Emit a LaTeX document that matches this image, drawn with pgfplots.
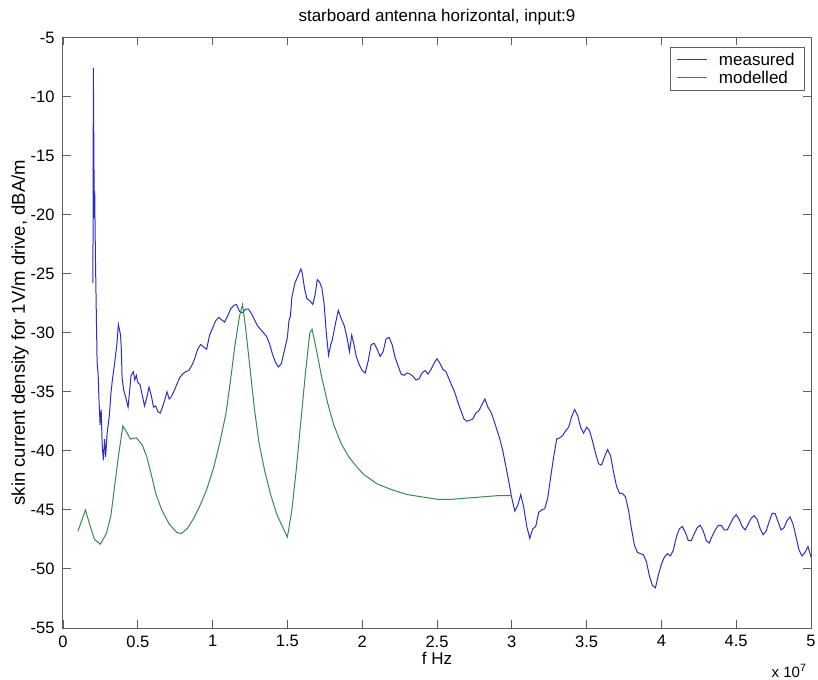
\documentclass[border=0pt]{standalone}
\usepackage{pgfplots}
\pgfplotsset{compat=1.18}
\usepackage{fontspec}
\setmainfont{Liberation Sans}
\definecolor{mblue}{RGB}{45,45,200}
\definecolor{mgreen}{RGB}{50,140,80}
\definecolor{axgray}{RGB}{95,95,95}
\begin{document}
\begin{tikzpicture}
\path[use as bounding box] (-63pt,-51pt) rectangle (755pt,628pt);
\begin{axis}[
  name=ax,
  scale only axis,
  width=748pt, height=590.5pt,
  xmin=0, xmax=5, ymin=-55, ymax=-5,
  xtick={0,0.5,1,1.5,2,2.5,3,3.5,4,4.5,5},
  ytick={-55,-50,-45,-40,-35,-30,-25,-20,-15,-10,-5},
  /pgf/number format/assume math mode=true,
  tick align=inside,
  major tick length=8pt,
  axis line style={axgray, line width=1pt},
  tick style={axgray, line width=0.9pt},
  tick label style={font=\fontsize{16.5}{19}\selectfont},
  xticklabel style={yshift=-4pt},
  yticklabel style={xshift=-5pt},
  title={starboard antenna horizontal, input:9},
  title style={font=\fontsize{17}{20}\selectfont, at={(axis description cs:0.5,1)}, anchor=center, yshift=14pt},
  xlabel={f Hz},
  xlabel style={font=\fontsize{17}{20}\selectfont, at={(axis description cs:0.5,0)}, anchor=center, yshift=-30pt},
  ylabel={skin current density for 1V/m drive, dBA/m},
  ylabel style={font=\fontsize{18.5}{21}\selectfont, at={(axis description cs:-0.0575,0.5)}, anchor=center},
  legend style={at={(rel axis cs:1,1)}, anchor=north east, xshift=-6pt, yshift=-9.5pt,
    draw=axgray, line width=0.9pt, font=\fontsize{17}{20}\selectfont,
    inner xsep=7pt, inner ysep=3.5pt, row sep=0pt,
    nodes={inner xsep=3pt, inner ysep=2pt},
    /tikz/every odd column/.append style={column sep=8pt}},
  legend cell align=left,
  legend image code/.code={\draw[#1] (0pt,0pt) -- (30pt,0pt);},
]
\addplot[mblue, line width=1pt] coordinates {
(0.200,-25.8) (0.203,-7.6) (0.206,-14.0) (0.208,-17.6) (0.210,-20.3) (0.212,-18.0) (0.214,-20.5) (0.217,-23.8) (0.222,-27.8) (0.228,-32.5) (0.235,-33.5) (0.24,-35.5) (0.248,-37.8) (0.255,-36.5) (0.262,-39.5) (0.27,-40.8) (0.278,-39.0) (0.285,-40.5) (0.295,-38.5) (0.31,-37.0) (0.32,-35.2) (0.33,-34.0) (0.345,-32.6) (0.36,-31.0) (0.37,-29.3) (0.378,-29.8) (0.385,-30.2) (0.39,-31.5) (0.395,-33.8) (0.405,-34.8) (0.42,-35.5) (0.435,-36.3) (0.445,-35.0) (0.455,-33.6) (0.47,-33.3) (0.48,-34.0) (0.49,-33.6) (0.50,-34.2) (0.515,-34.4) (0.53,-35.3) (0.545,-36.2) (0.56,-35.5) (0.575,-34.6) (0.59,-35.3) (0.605,-36.3) (0.62,-36.2) (0.635,-36.7) (0.65,-36.8) (0.665,-36.3) (0.68,-35.7) (0.695,-35.0) (0.71,-35.6) (0.725,-35.4) (0.74,-35.0) (0.76,-34.4) (0.78,-33.8) (0.80,-33.5) (0.82,-33.3) (0.84,-33.2) (0.86,-32.8) (0.88,-32.2) (0.90,-31.4) (0.92,-31.0) (0.94,-31.2) (0.96,-31.4) (0.98,-30.2) (1.00,-29.6) (1.02,-29.0) (1.04,-28.7) (1.06,-28.9) (1.08,-29.1) (1.10,-28.6) (1.12,-28.0) (1.14,-27.7) (1.16,-27.6) (1.18,-28.2) (1.20,-28.3) (1.22,-28.0) (1.24,-28.0) (1.26,-28.4) (1.28,-28.9) (1.30,-29.4) (1.32,-29.7) (1.34,-30.0) (1.36,-30.3) (1.38,-30.9) (1.40,-31.8) (1.42,-32.5) (1.44,-32.9) (1.46,-32.6) (1.48,-31.5) (1.50,-30.4) (1.51,-29.0) (1.52,-28.6) (1.53,-27.0) (1.55,-25.8) (1.57,-25.2) (1.59,-24.6) (1.60,-25.0) (1.615,-26.3) (1.63,-27.1) (1.65,-27.3) (1.67,-27.6) (1.685,-26.8) (1.70,-25.5) (1.715,-25.7) (1.73,-26.2) (1.745,-27.5) (1.76,-30.0) (1.775,-31.9) (1.79,-31.0) (1.80,-30.6) (1.82,-29.3) (1.84,-28.1) (1.86,-28.8) (1.88,-29.4) (1.90,-30.5) (1.915,-31.6) (1.93,-30.2) (1.945,-31.0) (1.96,-32.0) (1.98,-32.7) (2.00,-33.2) (2.02,-33.4) (2.04,-32.4) (2.06,-31.0) (2.08,-30.9) (2.10,-31.4) (2.12,-32.0) (2.14,-31.6) (2.16,-30.5) (2.18,-30.4) (2.20,-31.0) (2.22,-32.1) (2.24,-32.8) (2.26,-33.5) (2.28,-33.6) (2.30,-33.4) (2.32,-33.5) (2.34,-33.7) (2.36,-34.0) (2.38,-33.9) (2.40,-33.4) (2.42,-33.2) (2.44,-33.5) (2.46,-33.1) (2.48,-32.6) (2.50,-32.2) (2.52,-32.6) (2.54,-33.1) (2.56,-33.3) (2.58,-33.9) (2.60,-34.5) (2.62,-35.1) (2.64,-35.9) (2.66,-36.6) (2.68,-37.3) (2.70,-37.5) (2.72,-37.4) (2.74,-37.3) (2.76,-36.8) (2.78,-36.6) (2.80,-36.1) (2.82,-35.6) (2.84,-36.3) (2.86,-36.7) (2.88,-37.4) (2.90,-38.2) (2.92,-39.0) (2.94,-40.0) (2.96,-41.3) (2.98,-42.6) (3.00,-44.0) (3.02,-45.1) (3.04,-44.6) (3.06,-43.7) (3.08,-44.8) (3.10,-46.4) (3.12,-47.4) (3.14,-46.6) (3.16,-46.4) (3.18,-45.2) (3.20,-45.0) (3.22,-44.9) (3.24,-44.0) (3.26,-42.2) (3.28,-40.5) (3.30,-39.0) (3.32,-38.9) (3.34,-38.7) (3.36,-38.3) (3.38,-38.0) (3.40,-37.1) (3.42,-36.5) (3.44,-37.0) (3.46,-38.0) (3.48,-38.5) (3.50,-38.0) (3.52,-38.3) (3.54,-39.2) (3.56,-40.2) (3.58,-41.1) (3.60,-41.2) (3.62,-40.5) (3.64,-39.9) (3.66,-40.4) (3.68,-41.8) (3.70,-43.0) (3.72,-43.6) (3.74,-43.6) (3.76,-43.9) (3.78,-45.0) (3.80,-46.6) (3.82,-48.0) (3.84,-48.6) (3.86,-48.7) (3.88,-48.8) (3.90,-49.4) (3.92,-50.6) (3.94,-51.4) (3.96,-51.6) (3.98,-50.5) (4.00,-49.6) (4.02,-49.0) (4.04,-48.7) (4.06,-48.9) (4.08,-48.4) (4.10,-47.3) (4.12,-46.6) (4.14,-46.4) (4.16,-46.9) (4.18,-47.6) (4.20,-47.6) (4.22,-47.0) (4.24,-46.5) (4.26,-46.3) (4.28,-46.8) (4.30,-47.6) (4.32,-47.8) (4.34,-47.2) (4.36,-46.7) (4.38,-46.3) (4.40,-46.3) (4.42,-46.7) (4.44,-46.7) (4.46,-46.2) (4.48,-45.7) (4.50,-45.4) (4.52,-45.8) (4.54,-46.4) (4.56,-46.7) (4.58,-46.2) (4.60,-45.7) (4.62,-45.5) (4.64,-45.8) (4.66,-46.6) (4.68,-47.1) (4.70,-46.8) (4.72,-46.0) (4.74,-45.3) (4.76,-45.3) (4.78,-46.0) (4.80,-46.7) (4.82,-46.5) (4.84,-45.9) (4.86,-45.6) (4.88,-46.2) (4.90,-47.3) (4.92,-48.4) (4.94,-48.9) (4.96,-48.6) (4.98,-48.1) (5.00,-49.0)
};
\addlegendentry{measured}
\addplot[mgreen, line width=1pt] coordinates {
(0.10,-46.8) (0.15,-45.0) (0.18,-46.3) (0.21,-47.5) (0.25,-47.9) (0.29,-47.0) (0.32,-45.5) (0.345,-43.0) (0.37,-40.5) (0.40,-37.9) (0.43,-38.5) (0.45,-39.0) (0.49,-38.9) (0.53,-39.5) (0.56,-40.5) (0.59,-42.0) (0.62,-43.6) (0.66,-45.0) (0.71,-46.2) (0.76,-46.9) (0.79,-47.0) (0.83,-46.6) (0.87,-45.8) (0.91,-44.8) (0.96,-43.3) (1.01,-41.3) (1.05,-39.2) (1.09,-36.8) (1.12,-34.0) (1.15,-31.0) (1.18,-28.6) (1.20,-27.6) (1.22,-29.5) (1.25,-33.0) (1.28,-36.5) (1.31,-39.3) (1.35,-41.8) (1.39,-43.8) (1.43,-45.4) (1.47,-46.5) (1.50,-47.3) (1.53,-45.0) (1.56,-41.5) (1.59,-37.5) (1.62,-33.5) (1.65,-30.0) (1.665,-29.7) (1.69,-31.2) (1.73,-33.8) (1.77,-36.0) (1.81,-37.8) (1.86,-39.4) (1.91,-40.5) (1.96,-41.3) (2.01,-42.0) (2.10,-42.8) (2.20,-43.3) (2.30,-43.7) (2.40,-43.9) (2.50,-44.1) (2.60,-44.1) (2.70,-44.0) (2.80,-43.9) (2.90,-43.8) (3.00,-43.8)
};
\addlegendentry{modelled}
\end{axis}
\node[font=\fontsize{15}{18}\selectfont] at (ax.south east) [xshift=-22pt, yshift=-43pt] {x 10\textsuperscript{7}};
\end{tikzpicture}
\end{document}
